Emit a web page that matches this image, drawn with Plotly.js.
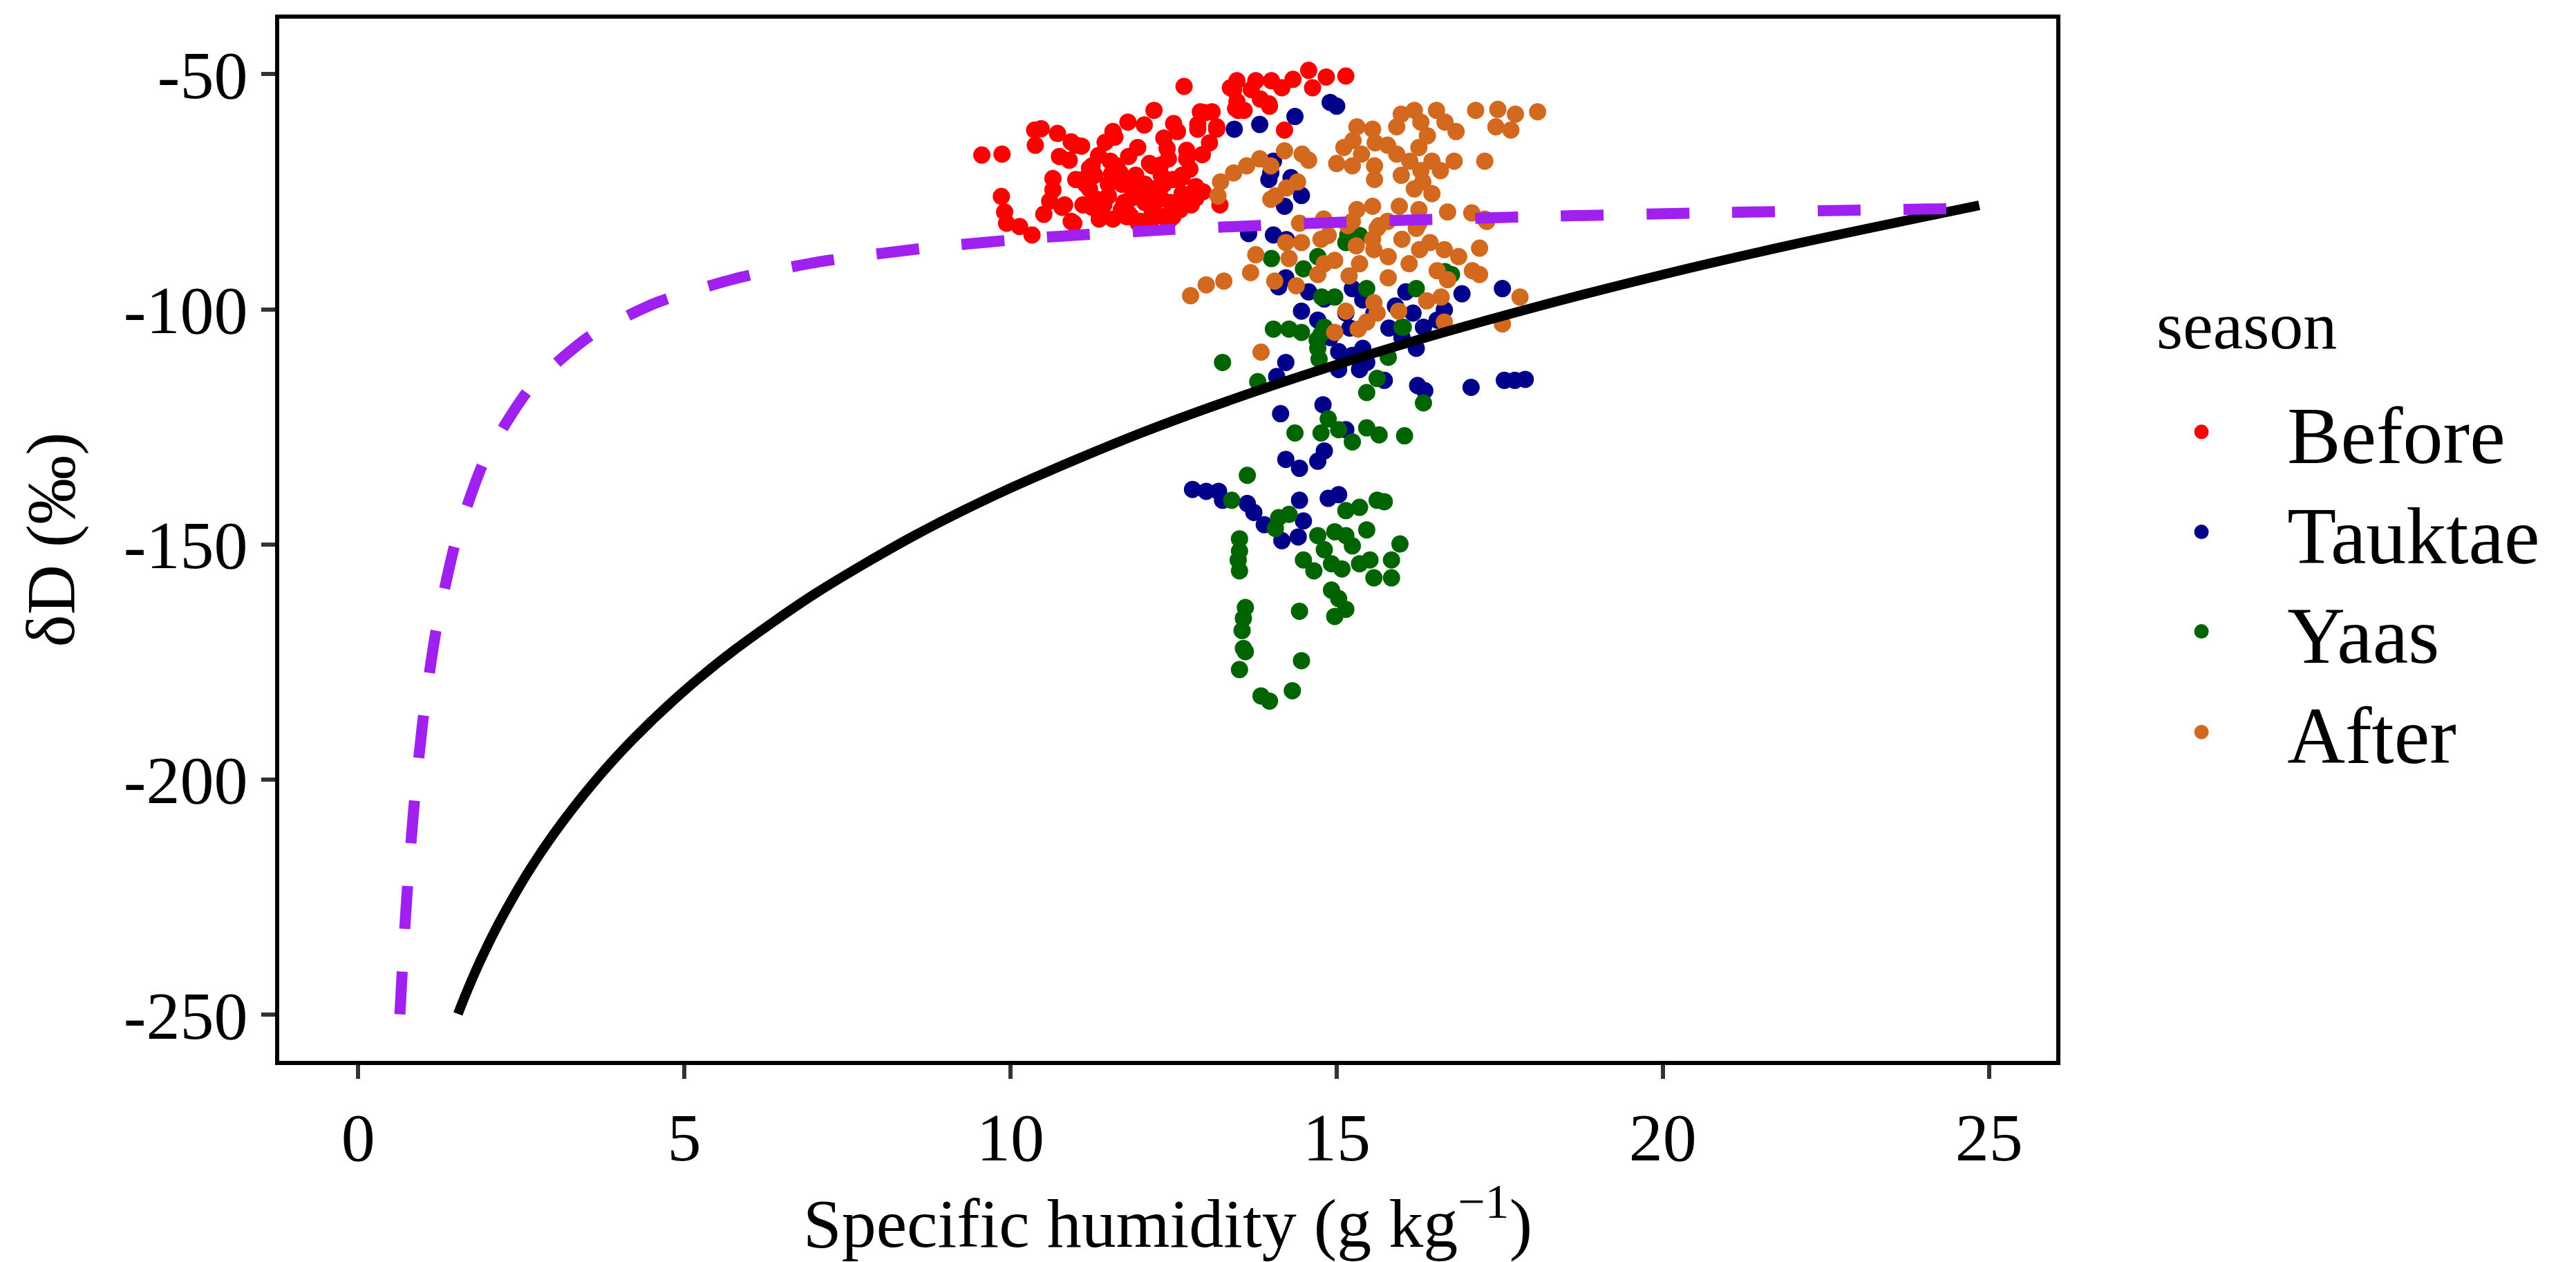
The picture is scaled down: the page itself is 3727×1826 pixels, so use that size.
<!DOCTYPE html>
<html>
<head>
<meta charset="utf-8">
<script src="https://cdn.plot.ly/plotly-3.0.1.min.js"></script>
<style>
  body { margin: 0; background: #fff; }
  #chart { width: 3727px; height: 1826px; }
</style>
</head>
<body>
<div id="chart"></div>
<script>
const beforeQ = [9.56, 9.87, 9.86, 9.91, 9.94, 10.14, 10.33, 10.37, 10.47, 10.38, 10.72, 10.93, 11.09, 10.90, 10.65, 10.65, 10.51, 10.79, 10.93, 11.0,
  11.25, 11.21, 11.11, 11.57, 11.8, 11.6, 12.2, 12.66, 11.53, 11.5, 11.43, 11.36, 11.81, 11.95, 11.92, 11.85, 11.85, 11.99, 12.17, 12.2,
  12.17, 12.35, 12.56, 12.42, 12.49, 12.45, 12.49, 12.63, 12.84, 12.84, 12.70, 12.87, 12.91, 13.09, 13.16, 13.05, 12.94, 13.21, 13.37, 13.47,
  13.47, 13.58, 13.76, 13.83, 13.97, 14.0, 14.57, 14.84, 15.14, 14.63, 14.33, 14.16, 13.96, 14.2, 13.69, 13.49, 13.42, 11.63, 11.71, 11.74,
  11.92, 12.06, 12.06, 12.31, 12.31, 11.29, 11.5, 11.78, 12.2, 12.35, 12.63, 12.77, 11.11, 11.29,
  11.0, 10.83, 10.97, 11.15, 11.21, 11.46, 11.68, 11.89, 12.13, 12.04, 11.82, 11.96, 12.35, 12.84, 12.52, 12.45, 12.17, 12.87, 12.98, 13.16,
  13.45, 12.63, 11.36, 11.57, 10.75, 11.45, 12.05, 12.5, 11.35, 11.55, 12.3, 12.75, 12.95, 12.7, 12.4, 12.6, 11.7, 11.25, 10.6];
const beforeD = [-67.2, -67.0, -76.0, -79.3, -81.7, -82.4, -84.2, -61.9, -61.6, -65.1, -62.6, -64.4, -65.3, -68.3, -72.2, -74.6, -79.8, -78.3, -81.3, -72.4,
  -69.5, -74.4, -77.8, -62.2, -60.2, -63.4, -57.7, -52.6, -68.5, -73.4, -77.8, -80.8, -67.5, -65.6, -71.5, -76.4, -80.3, -81.3, -69.5, -74.4,
  -79.8, -63.6, -62.2, -68.0, -72.4, -77.3, -80.3, -71.5, -73.9, -76.4, -68.0, -60.7, -58.0, -58.0, -61.7, -64.6, -67.1, -77.8, -52.9, -51.4,
  -55.8, -57.7, -51.4, -55.3, -56.8, -51.4, -49.2, -50.6, -50.4, -52.9, -51.1, -52.9, -56.3, -61.9, -53.3, -57.7, -53.3, -69.5, -73.4, -77.3,
  -75.4, -73.4, -77.3, -71.5, -76.4, -76.4, -75.9, -80.3, -77.8, -80.3, -75.4, -77.8, -72.4, -71.5,
  -65.1, -77.8, -81.7, -73.4, -70.0, -76.4, -71.0, -72.9, -69.0, -76.9, -79.8, -81.7, -73.4, -75.9, -79.3, -80.8, -80.8, -61.7, -58.2, -61.2,
  -57.3, -72.0, -78.8, -80.8, -67.5, -64.5, -60.8, -60.5, -67.3, -71.2, -69.3, -70.2, -75.0, -66.2, -65.8, -78.8, -78.8, -78.3, -77.0];

const tauktaeQ = [14.9, 15.0, 14.36, 13.82, 13.43, 14.03, 13.99, 13.96, 14.30, 14.46, 14.2, 13.65, 14.03, 14.23, 14.22, 14.11, 14.57, 14.46, 14.71, 14.81,
  15.14, 15.24, 15.57, 15.90, 16.06, 16.17, 16.33, 16.65, 16.22, 16.54, 16.92, 17.54, 15.03, 15.24, 15.40, 15.35, 15.03, 15.46, 15.73, 14.22,
  14.08, 16.24, 16.35, 17.06, 17.57, 17.73, 17.89, 14.79, 14.14, 15.14, 14.81, 14.71, 14.22, 14.43, 12.79, 13.0, 13.19, 13.25, 13.63, 13.73,
  13.89, 14.16, 14.43, 14.87, 15.03, 14.49, 14.41, 15.4, 15.8, 16.0, 15.2, 14.9];
const tauktaeD = [-56.0, -56.8, -59.0, -60.7, -61.7, -68.5, -71.0, -72.4, -72.0, -75.8, -78.1, -83.9, -84.2, -85.2, -93.3, -95.2, -96.3, -100.4, -102.3, -97.8,
  -100.8, -95.6, -100.8, -99.3, -96.3, -100.8, -103.8, -100.1, -108.3, -102.3, -96.7, -95.6, -109.0, -109.8, -108.3, -112.8, -112.8, -111.3, -115.1, -111.3,
  -114.3, -116.2, -117.3, -116.6, -115.1, -115.1, -114.9, -120.3, -122.2, -125.6, -130.1, -132.3, -131.9, -133.8, -138.3, -138.7, -138.7, -140.6, -141.3, -143.2,
  -145.8, -149.2, -140.6, -140.2, -139.4, -145.0, -148.4, -98.0, -104.0, -106.0, -104.0, -106.0];

const yaasQ = [14.0, 14.49, 14.71, 15.14, 15.35, 15.17, 16.22, 16.76, 14.97, 15.46, 16.0, 14.03, 14.27, 14.46, 14.76, 14.71, 14.73, 14.81, 13.25, 13.79,
  15.79, 15.62, 15.46, 16.33, 14.87, 14.36, 14.76, 15.03, 15.24, 15.46, 15.65, 16.04, 13.63, 13.39, 14.11, 14.06, 14.27, 15.14, 15.35, 15.62,
  15.73, 13.51, 13.51, 13.49, 13.51, 14.71, 14.97, 15.14, 15.46, 15.24, 14.49, 14.65, 14.81, 14.92, 15.08, 15.35, 15.51, 15.57, 15.84, 15.84,
  15.97, 14.92, 15.03, 15.14, 14.97, 14.43, 13.6, 13.57, 13.55, 13.57, 13.6, 13.51, 14.46, 13.84, 13.97, 14.32, 14.77, 16.02, 16.66, 14.7];
const yaasD = [-89.2, -91.4, -88.8, -85.8, -84.3, -84.2, -95.6, -92.6, -97.4, -95.6, -103.8, -104.2, -104.2, -104.9, -105.3, -108.3, -110.6, -103.8, -111.3, -115.4,
  -110.2, -114.7, -117.7, -119.9, -123.3, -126.3, -126.3, -125.6, -128.2, -125.2, -126.7, -126.9, -135.3, -140.6, -144.3, -146.6, -143.6, -142.8, -142.1, -140.6,
  -140.9, -148.8, -151.4, -153.3, -155.6, -148.1, -147.3, -148.1, -146.9, -150.3, -153.3, -155.6, -151.1, -154.1, -155.2, -154.1, -153.3, -157.1, -157.1, -153.3,
  -149.9, -159.7, -161.5, -163.8, -165.3, -164.2, -163.4, -165.7, -168.3, -172.1, -172.8, -176.6, -174.7, -182.2, -183.3, -181.1, -97.4, -103.8, -92.0, -106.5];

const afterQ = [18.08, 17.74, 17.47, 17.13, 17.67, 17.44, 17.27, 16.83, 16.53, 16.19, 15.99, 16.29, 16.66, 15.92, 16.39, 15.55, 15.31, 15.25, 15.59, 15.11,
  15.38, 15.78, 16.26, 16.12, 16.46, 16.80, 15.0, 15.24, 15.58, 15.92, 15.58, 15.99, 16.29, 16.59, 16.19, 16.46, 16.32, 13.22, 13.18, 13.42,
  13.62, 13.82, 13.99, 14.2, 14.47, 14.57, 14.40, 14.23, 14.06, 13.99, 14.43, 14.80, 15.31, 15.55, 15.96, 16.26, 16.70, 17.07, 17.27, 15.17,
  15.65, 16.26, 15.78, 12.76, 13.0, 13.27, 13.68, 13.76, 13.84, 14.05, 14.38, 14.27, 14.22, 14.46, 14.76, 14.81, 14.97, 15.19, 15.30, 15.35,
  15.57, 15.62, 15.79, 15.79, 16.0, 16.11, 16.22, 16.27, 16.43, 16.54, 16.65, 16.70, 16.87, 17.19, 17.19, 17.08, 17.30, 17.81, 17.54, 16.65,
  16.38, 16.60, 15.95, 15.62, 15.57, 15.46, 15.33, 15.14, 14.97, 14.71, 14.87, 15.24, 15.55];
const afterD = [-58.0, -58.5, -57.5, -57.7, -61.9, -61.2, -68.5, -62.2, -57.7, -57.7, -58.5, -60.2, -60.2, -61.2, -63.1, -61.7, -61.2, -64.1, -64.6, -65.6,
  -67.0, -65.1, -65.6, -68.5, -68.5, -68.5, -69.0, -69.5, -69.5, -67.0, -72.4, -71.5, -70.5, -70.5, -74.4, -75.4, -72.9, -72.9, -75.9, -71.0,
  -69.5, -68.0, -69.5, -66.3, -67.0, -68.3, -72.9, -74.2, -75.9, -76.6, -81.7, -80.8, -78.8, -78.1, -78.1, -78.8, -79.3, -79.5, -80.8, -82.2,
  -82.2, -81.7, -81.3, -97.1, -94.8, -94.0, -92.2, -88.4, -109.1, -94.0, -95.0, -89.2, -85.8, -85.8, -85.1, -90.3, -89.6, -92.9, -86.5, -90.3,
  -87.3, -82.8, -88.8, -93.3, -85.1, -90.3, -82.8, -87.3, -85.8, -91.8, -87.3, -93.7, -88.8, -87.0, -92.6, -91.8, -81.3, -97.4, -103.1, -102.7,
  -98.2, -97.4, -100.4, -100.8, -98.6, -102.7, -104.2, -100.4, -104.9, -92.6, -84.3, -81.3, -85.1];

// curves
const rayleighQ = [1.53, 1.65, 1.8, 2.0, 2.2, 2.6, 3.0, 3.6, 4.2, 5.0, 5.8, 7, 8.5, 10, 12, 14, 16, 18, 20, 22, 24.85];
const rayleighD = [-249.8, -245.6, -240.7, -234.8, -229.4, -219.8, -211.5, -200.8, -191.6, -181.1, -172.1, -160.5, -148.3, -138.0, -126.3, -116.3, -107.5, -99.7, -92.6, -86.2, -77.9];
const mixingQ = [0.64, 0.66, 0.70, 0.75, 0.85, 0.99, 1.19, 1.49, 1.93, 2.63, 3.55, 4.57, 5.86, 7.16, 8.75, 10.5, 12.5, 15, 18, 21, 24.85];
const mixingD = [-249.9, -244.6, -234.9, -224.1, -206.5, -187.7, -168.6, -149.6, -132.3, -116.8, -105.7, -98.6, -93.2, -89.7, -86.9, -84.7, -83.0, -81.5, -80.3, -79.4, -78.5];

const seasons = ["Before", "Tauktae", "Yaas", "After"];
const seasonColors = ["#FF0000", "#00008B", "#006400", "#D2691E"];

const xTicks = [0, 5, 10, 15, 20, 25];
const yTicks = [-250, -200, -150, -100, -50];
const yTickLabels = ["-250", "-200", "-150", "-100", "-50"];

const FONT = "Liberation Serif, Times New Roman, serif";
const legendNames = ["legend", "legend2", "legend3", "legend4"];
const legendRows = [0.6035, 0.5075, 0.412, 0.3155];

const pointSets = [[beforeQ, beforeD], [tauktaeQ, tauktaeD], [yaasQ, yaasD], [afterQ, afterD]];
const traces = pointSets.map((p, i) => ({
  x: p[0],
  y: p[1],
  type: "scatter",
  mode: "markers",
  name: seasons[i],
  legend: legendNames[i],
  marker: { color: seasonColors[i], size: 20, line: { width: 5, color: seasonColors[i] } },
}));

traces.push({
  x: rayleighQ, y: rayleighD, type: "scatter", mode: "lines", showlegend: false,
  line: { color: "#000000", width: 14, shape: "spline", smoothing: 0.8 },
});
traces.push({
  x: mixingQ, y: mixingD, type: "scatter", mode: "lines", showlegend: false,
  line: { color: "#A020F0", width: 16, dash: "62px,62px", shape: "spline", smoothing: 0.6 },
});

// one legend box per season so the row spacing follows the reference
function legendBox(y) {
  return {
    x: 1.0335, xanchor: "left",
    y: y, yanchor: "middle",
    bgcolor: "rgba(0,0,0,0)",
    font: { size: 116, family: FONT, color: "#000000" },
    itemwidth: 238,
  };
}

const layout = {
  width: 3727,
  height: 1826,
  margin: { l: 404, r: 752, t: 27, b: 291 },
  paper_bgcolor: "#ffffff",
  plot_bgcolor: "#ffffff",
  font: { family: FONT, color: "#000000" },
  xaxis: {
    range: [-1.21, 26.03],
    tickvals: xTicks,
    ticks: "outside", ticklen: 20, tickwidth: 6, tickcolor: "#333333",
    tickfont: { size: 98, family: FONT, color: "#000000" },
    showline: true, linewidth: 6, linecolor: "#000000", mirror: true,
    showgrid: false, zeroline: false,
    title: { text: "Specific humidity (g kg<sup>−1</sup>)", font: { size: 100, family: FONT }, standoff: 40 },
  },
  yaxis: {
    range: [-259.8, -38.2],
    tickvals: yTicks, ticktext: yTickLabels,
    ticks: "outside", ticklen: 20, tickwidth: 6, tickcolor: "#333333",
    tickfont: { size: 98, family: FONT, color: "#000000" },
    showline: true, linewidth: 6, linecolor: "#000000", mirror: true,
    showgrid: false, zeroline: false,
    title: { text: "δD (‰)", font: { size: 100, family: FONT }, standoff: 40 },
  },
  xaxis2: {
    overlaying: "x", side: "top", range: [-1.21, 26.03], tickvals: xTicks,
    ticks: "outside", ticklen: 6, tickwidth: 6, tickcolor: "#ffffff",
    showticklabels: false, showgrid: false, zeroline: false, showline: false,
  },
  yaxis2: {
    overlaying: "y", side: "right", range: [-259.8, -38.2], tickvals: yTicks,
    ticks: "outside", ticklen: 6, tickwidth: 6, tickcolor: "#ffffff",
    showticklabels: false, showgrid: false, zeroline: false, showline: false,
  },
  showlegend: true,
  legend: legendBox(legendRows[0]),
  legend2: legendBox(legendRows[1]),
  legend3: legendBox(legendRows[2]),
  legend4: legendBox(legendRows[3]),
  annotations: [{
    text: "season", xref: "paper", yref: "paper",
    x: 1.0558, xanchor: "left", y: 0.7056, yanchor: "middle",
    showarrow: false, font: { size: 98, family: FONT, color: "#000000" },
  }],
};

Plotly.newPlot("chart", traces, layout, { displayModeBar: false, responsive: false });
</script>
</body>
</html>
